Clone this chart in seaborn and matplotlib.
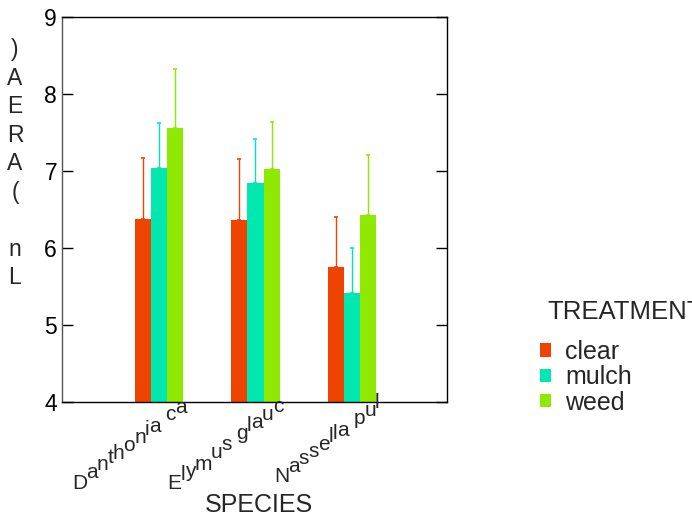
import numpy as np
import pandas as pd
import matplotlib
matplotlib.use("Agg")
import matplotlib.pyplot as plt
import seaborn as sns

# ---- data -------------------------------------------------------------
species = ["Danthonia ca", "Elymus glauc", "Nassella pul"]
treatments = ["clear", "mulch", "weed"]
ln_area_clear = [6.38, 6.37, 5.75]
ln_area_mulch = [7.04, 6.84, 5.41]
ln_area_weed = [7.56, 7.02, 6.43]
err_clear = [0.79, 0.78, 0.65]
err_mulch = [0.58, 0.57, 0.59]
err_weed = [0.77, 0.61, 0.78]
y_ticks = [4, 5, 6, 7, 8, 9]
y_label = "Ln (AREA)"
x_label = "SPECIES"
legend_title = "TREATMENT"

colors = ["#EE4400", "#00E8B0", "#8EE800"]

values = {"clear": ln_area_clear, "mulch": ln_area_mulch, "weed": ln_area_weed}
errors = {"clear": err_clear, "mulch": err_mulch, "weed": err_weed}
df = pd.DataFrame(
    [(sp, t, values[t][i]) for t in treatments for i, sp in enumerate(species)],
    columns=["species", "treatment", "ln_area"],
)

# ---- style ------------------------------------------------------------
sns.set_theme(style="white")
plt.rcParams["font.family"] = ["Liberation Sans", "DejaVu Sans"]

W, H = 692, 516
PT = 0.72  # points per pixel at 100 dpi
fig = plt.figure(figsize=(W / 100, H / 100), dpi=100)
ax = fig.add_axes([62 / W, (H - 402) / H, 385 / W, 385 / H])

sns.barplot(
    data=df, x="species", y="ln_area", hue="treatment",
    order=species, hue_order=treatments, palette=colors,
    width=0.5, gap=0, errorbar=None, saturation=1, linewidth=0, ax=ax,
)

# one-sided (upper) error bars on each bar
for cont, t, c in zip(ax.containers, treatments, colors):
    xs = [b.get_x() + b.get_width() / 2 for b in cont]
    hs = [b.get_height() for b in cont]
    ax.errorbar(xs, hs, yerr=[np.zeros(len(hs)), errors[t]], fmt="none",
                ecolor=c, elinewidth=1, capsize=1.6, capthick=1.2, zorder=3)

ax.set_ylim(4, 9)
ax.set_xlim(-1.0, 2.98)
ax.set_yticks(y_ticks)
ax.set_yticklabels([str(v) for v in y_ticks])
ax.set_xticks([])
ax.set_ylabel("")
ax.tick_params(axis="y", direction="in", length=8, width=1, left=True,
               right=True, pad=3.6, labelsize=16.5, colors="black")
for s in ax.spines.values():
    s.set_visible(True)
    s.set_color("black")
    s.set_linewidth(1)
ax.spines["left"].set_color("#555555")

# x category labels: upright glyphs whose baseline climbs as the text advances
adv = {" ": .278, "a": .556, "c": .5, "e": .556, "g": .556, "h": .556,
       "i": .222, "l": .222, "m": .833, "n": .556, "o": .556, "p": .556,
       "s": .5, "t": .278, "u": .556, "y": .5, "D": .722, "E": .667,
       "N": .722}
fs_x = 15.0          # glyph size
fs_step = 13.9 / PT  # advance scale in pixels per em
rise = 0.735
end_dx, end_dy = 27.0, -3.0  # pixels from category centre / axis bottom
for i, name in enumerate(species):
    total = sum(adv[ch] for ch in name) * fs_step
    pos = -total
    for ch in name:
        dx = end_dx + pos
        dy = end_dy + pos * rise
        ax.annotate(ch, xy=(i, 0), xycoords=("data", "axes fraction"),
                    xytext=(dx * PT, dy * PT), textcoords="offset points",
                    ha="left", va="baseline", fontsize=fs_x,
                    annotation_clip=False)
        pos += adv[ch] * fs_step

ax.set_xlabel(x_label, fontsize=18)
ax.xaxis.label.set_va("baseline")
ax.xaxis.set_label_coords((259 - 62) / 385, (402 - 512) / 385)

# y label: upright characters stacked from the bottom
for k, ch in enumerate(y_label):
    base = 284 - 28.5 * k
    fig.text(15 / W, 1 - base / H, ch, ha="center", va="baseline",
             fontsize=16.5)

# legend
sns.move_legend(ax, loc="upper left", bbox_to_anchor=(540 / W, 1 - 340 / H),
                bbox_transform=fig.transFigure, frameon=False, title=None,
                fontsize=18, handlelength=0.45, handleheight=0.45,
                handletextpad=0.55, labelspacing=0.05, borderpad=0,
                borderaxespad=0)
fig.text(547 / W, 1 - 319 / H, legend_title, ha="left", va="baseline",
         fontsize=18.5)

fig.savefig("out.png", dpi=100)
